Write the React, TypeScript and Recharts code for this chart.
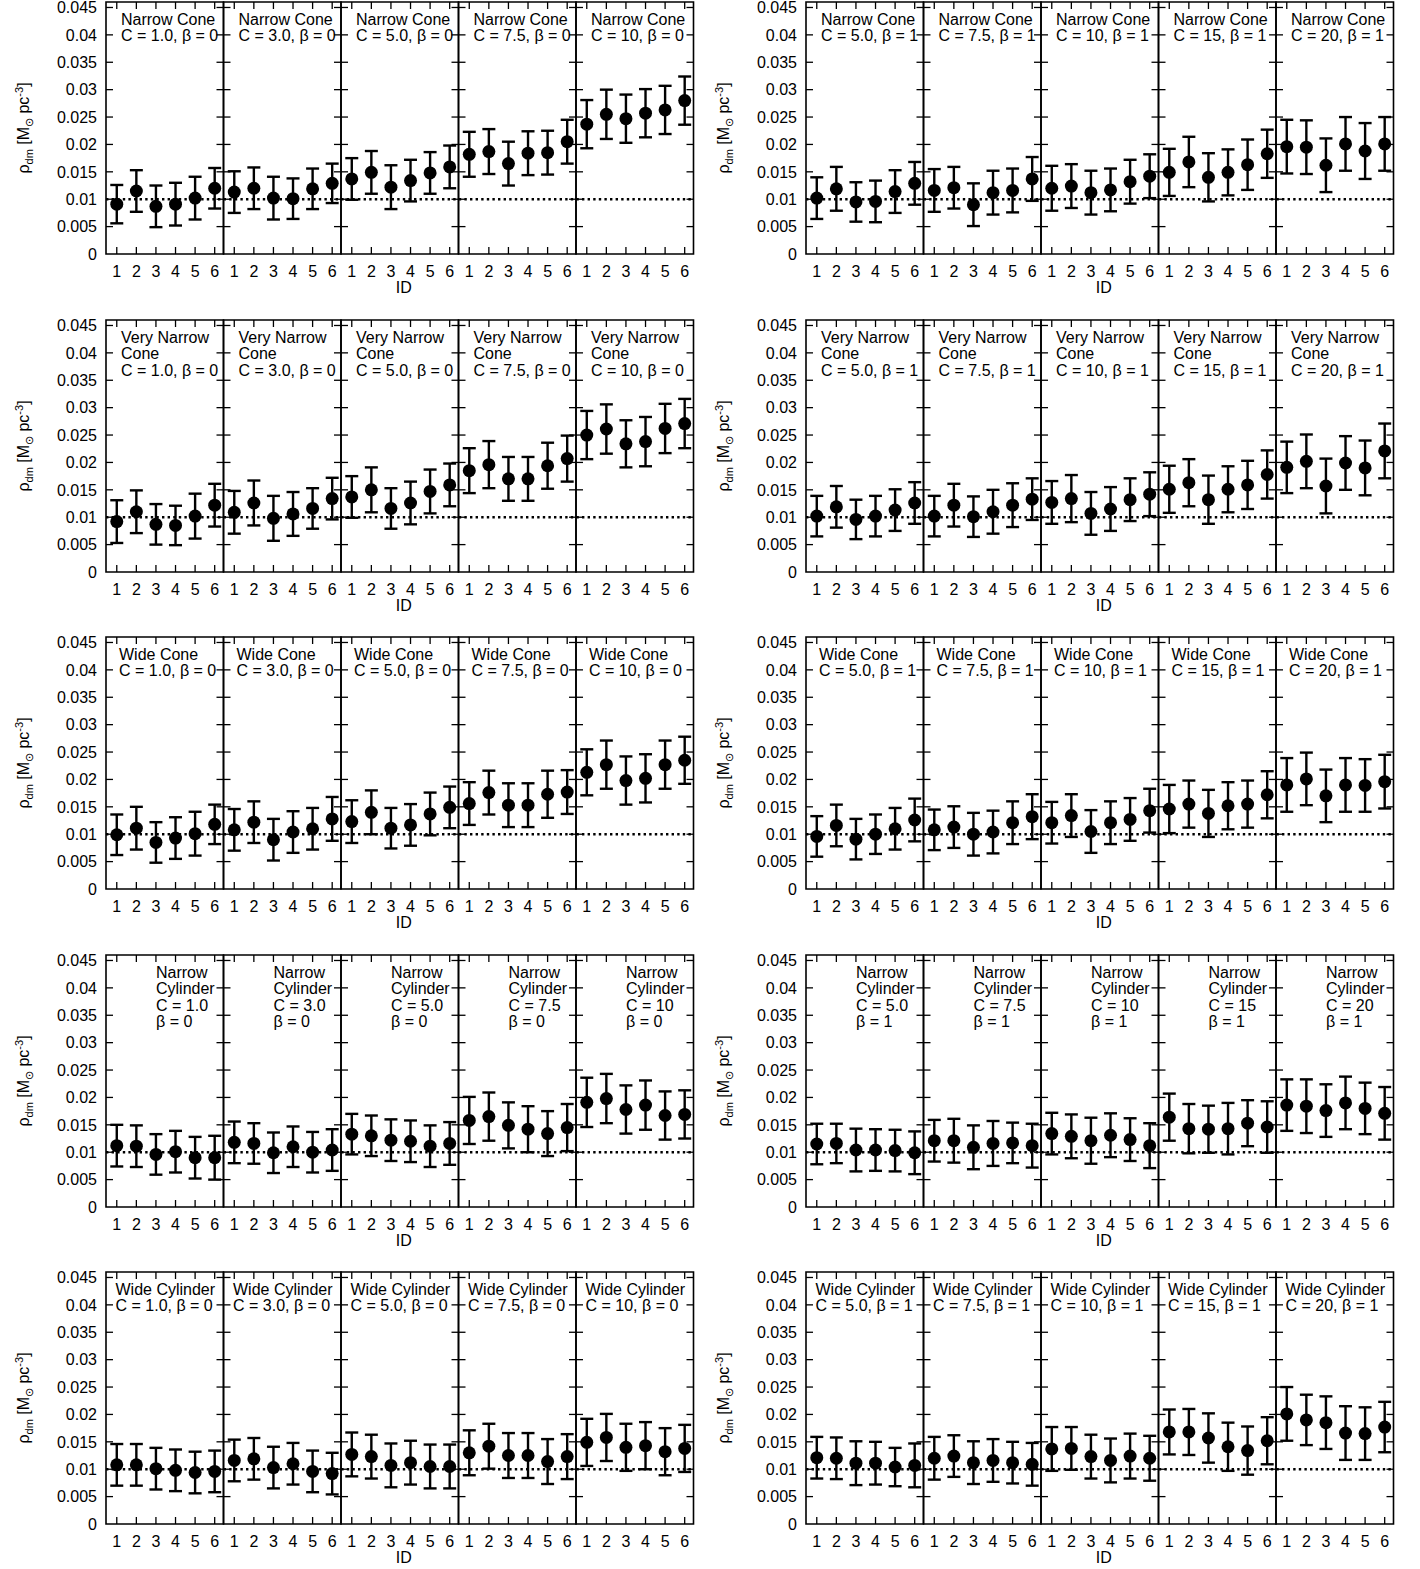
import React from 'react';
import { ScatterChart, Scatter, XAxis, YAxis, ErrorBar, ReferenceLine, ReferenceArea } from 'recharts';

const FONT = '"Liberation Sans", Arial, Helvetica, sans-serif';

// axis setup
const Y_MAX = 0.046;
const yTicks = [0, 0.005, 0.01, 0.015, 0.02, 0.025, 0.03, 0.035, 0.04, 0.045];
const ids = [1, 2, 3, 4, 5, 6];
const cBeta0 = ['1.0', '3.0', '5.0', '7.5', '10'];
const cBeta1 = ['5.0', '7.5', '10', '15', '20'];
const targetDensity = 0.01;

// rho_dm per sub-panel (rows: C value, columns: ID 1..6)
const narrowConeB0 = [
  [0.0091, 0.0115, 0.0087, 0.0091, 0.0102, 0.012],
  [0.0113, 0.012, 0.0102, 0.0101, 0.0119, 0.0129],
  [0.0137, 0.0149, 0.0122, 0.0134, 0.0148, 0.0159],
  [0.0182, 0.0187, 0.0165, 0.0184, 0.0185, 0.0205],
  [0.0237, 0.0255, 0.0247, 0.0257, 0.0263, 0.028],
];
const narrowConeB0Err = [
  [0.0035, 0.0038, 0.0038, 0.0039, 0.0039, 0.0037],
  [0.0038, 0.0038, 0.0039, 0.0037, 0.0037, 0.0036],
  [0.0038, 0.0039, 0.004, 0.0038, 0.0038, 0.0039],
  [0.0041, 0.0041, 0.004, 0.004, 0.004, 0.004],
  [0.0044, 0.0045, 0.0044, 0.0044, 0.0044, 0.0044],
];
const narrowConeB1 = [
  [0.0102, 0.0119, 0.0095, 0.0096, 0.0114, 0.0129],
  [0.0116, 0.0121, 0.009, 0.0112, 0.0116, 0.0137],
  [0.012, 0.0124, 0.0112, 0.0117, 0.0132, 0.0142],
  [0.0149, 0.0168, 0.014, 0.0149, 0.0163, 0.0183],
  [0.0196, 0.0195, 0.0162, 0.0201, 0.0188, 0.0201],
];
const narrowConeB1Err = [
  [0.0038, 0.004, 0.0036, 0.0038, 0.0039, 0.0039],
  [0.0039, 0.0038, 0.0039, 0.004, 0.004, 0.004],
  [0.0041, 0.004, 0.004, 0.0039, 0.004, 0.004],
  [0.0043, 0.0046, 0.0044, 0.0042, 0.0046, 0.0044],
  [0.0049, 0.0049, 0.0049, 0.0049, 0.0051, 0.0049],
];
const veryNarrowConeB0 = [
  [0.0092, 0.011, 0.0087, 0.0085, 0.0102, 0.0122],
  [0.0109, 0.0126, 0.0098, 0.0106, 0.0116, 0.0134],
  [0.0137, 0.015, 0.0116, 0.0126, 0.0147, 0.0159],
  [0.0185, 0.0196, 0.017, 0.017, 0.0194, 0.0207],
  [0.025, 0.0261, 0.0234, 0.0238, 0.0262, 0.0271],
];
const veryNarrowConeB0Err = [
  [0.0039, 0.0039, 0.0037, 0.0036, 0.0041, 0.0039],
  [0.0039, 0.0041, 0.0041, 0.004, 0.0037, 0.0038],
  [0.0038, 0.0041, 0.0037, 0.0039, 0.004, 0.0039],
  [0.0041, 0.0043, 0.004, 0.004, 0.0042, 0.0042],
  [0.0044, 0.0045, 0.0043, 0.0045, 0.0045, 0.0045],
];
const veryNarrowConeB1 = [
  [0.0102, 0.0119, 0.0096, 0.0102, 0.0113, 0.0126],
  [0.0102, 0.0122, 0.0101, 0.011, 0.0122, 0.0133],
  [0.0127, 0.0134, 0.0107, 0.0115, 0.0132, 0.0142],
  [0.0151, 0.0163, 0.0132, 0.0151, 0.0159, 0.0178],
  [0.0191, 0.0202, 0.0157, 0.0199, 0.019, 0.0221],
];
const veryNarrowConeB1Err = [
  [0.0037, 0.0038, 0.0036, 0.0037, 0.0038, 0.0038],
  [0.0037, 0.0039, 0.0037, 0.004, 0.004, 0.0038],
  [0.0039, 0.0043, 0.0039, 0.004, 0.0039, 0.004],
  [0.0043, 0.0043, 0.0044, 0.0042, 0.0044, 0.0044],
  [0.0047, 0.0049, 0.005, 0.0049, 0.005, 0.005],
];
const wideConeB0 = [
  [0.0099, 0.0111, 0.0085, 0.0093, 0.0101, 0.0118],
  [0.0108, 0.0122, 0.009, 0.0104, 0.011, 0.0128],
  [0.0123, 0.014, 0.0111, 0.0117, 0.0137, 0.0149],
  [0.0156, 0.0176, 0.0153, 0.0153, 0.0173, 0.0177],
  [0.0213, 0.0227, 0.0198, 0.0202, 0.0227, 0.0235],
];
const wideConeB0Err = [
  [0.0037, 0.0039, 0.0037, 0.0038, 0.004, 0.0036],
  [0.0038, 0.0038, 0.0038, 0.0038, 0.0038, 0.004],
  [0.0039, 0.004, 0.0037, 0.0038, 0.0039, 0.0038],
  [0.0039, 0.004, 0.004, 0.004, 0.0043, 0.004],
  [0.0042, 0.0044, 0.0044, 0.0044, 0.0044, 0.0043],
];
const wideConeB1 = [
  [0.0096, 0.0116, 0.0091, 0.01, 0.011, 0.0126],
  [0.0108, 0.0113, 0.01, 0.0104, 0.0121, 0.0132],
  [0.0121, 0.0134, 0.0105, 0.0121, 0.0127, 0.0143],
  [0.0146, 0.0155, 0.0138, 0.0152, 0.0155, 0.0172],
  [0.019, 0.0201, 0.017, 0.019, 0.0189, 0.0196],
];
const wideConeB1Err = [
  [0.0037, 0.0038, 0.0037, 0.0036, 0.0038, 0.0039],
  [0.0037, 0.0038, 0.0039, 0.0039, 0.0039, 0.0041],
  [0.0038, 0.0039, 0.0039, 0.0039, 0.0039, 0.004],
  [0.0044, 0.0043, 0.0043, 0.0043, 0.0043, 0.0043],
  [0.0049, 0.0048, 0.0048, 0.0049, 0.0048, 0.0049],
];
const narrowCylB0 = [
  [0.0112, 0.0111, 0.0096, 0.0101, 0.009, 0.009],
  [0.0118, 0.0116, 0.0099, 0.011, 0.01, 0.0104],
  [0.0133, 0.013, 0.0122, 0.012, 0.0111, 0.0116],
  [0.0158, 0.0165, 0.0149, 0.0142, 0.0134, 0.0145],
  [0.0191, 0.0198, 0.0178, 0.0186, 0.0167, 0.0169],
];
const narrowCylB0Err = [
  [0.0038, 0.0038, 0.0037, 0.0038, 0.0038, 0.004],
  [0.0038, 0.0037, 0.0037, 0.0037, 0.0037, 0.0038],
  [0.0037, 0.0037, 0.0038, 0.0038, 0.0038, 0.0039],
  [0.0043, 0.0044, 0.0042, 0.0042, 0.0041, 0.0043],
  [0.0045, 0.0045, 0.0044, 0.0045, 0.0044, 0.0044],
];
const narrowCylB1 = [
  [0.0115, 0.0116, 0.0104, 0.0104, 0.0103, 0.0099],
  [0.0121, 0.0121, 0.0109, 0.0116, 0.0117, 0.0112],
  [0.0134, 0.0129, 0.0121, 0.0131, 0.0123, 0.0112],
  [0.0164, 0.0143, 0.0142, 0.0143, 0.0153, 0.0146],
  [0.0186, 0.0184, 0.0176, 0.019, 0.018, 0.0171],
];
const narrowCylB1Err = [
  [0.0037, 0.0036, 0.0039, 0.0038, 0.0038, 0.0039],
  [0.0038, 0.004, 0.004, 0.0041, 0.0037, 0.004],
  [0.0038, 0.004, 0.0042, 0.004, 0.0039, 0.0041],
  [0.0043, 0.0045, 0.0043, 0.0047, 0.0042, 0.0047],
  [0.0047, 0.0049, 0.0048, 0.0048, 0.0047, 0.0048],
];
const wideCylB0 = [
  [0.0108, 0.0108, 0.0101, 0.0098, 0.0094, 0.0096],
  [0.0116, 0.0119, 0.0103, 0.011, 0.0096, 0.0092],
  [0.0127, 0.0123, 0.0107, 0.0112, 0.0105, 0.0105],
  [0.013, 0.0142, 0.0125, 0.0125, 0.0114, 0.0123],
  [0.0149, 0.0158, 0.014, 0.0143, 0.0132, 0.0138],
];
const wideCylB0Err = [
  [0.0038, 0.0038, 0.0038, 0.0038, 0.0038, 0.0038],
  [0.0038, 0.0038, 0.0038, 0.0038, 0.0038, 0.0038],
  [0.004, 0.004, 0.004, 0.004, 0.004, 0.004],
  [0.0041, 0.0041, 0.0041, 0.0041, 0.0041, 0.0041],
  [0.0043, 0.0043, 0.0043, 0.0043, 0.0043, 0.0043],
];
const wideCylB1 = [
  [0.0121, 0.012, 0.0111, 0.0111, 0.0104, 0.0107],
  [0.012, 0.0124, 0.0112, 0.0116, 0.0112, 0.0109],
  [0.0137, 0.0138, 0.0123, 0.0116, 0.0124, 0.012],
  [0.0168, 0.0168, 0.0157, 0.0141, 0.0134, 0.0152],
  [0.0201, 0.019, 0.0185, 0.0166, 0.0165, 0.0177],
];
const wideCylB1Err = [
  [0.0038, 0.0038, 0.004, 0.0039, 0.0035, 0.004],
  [0.0039, 0.0038, 0.0039, 0.0039, 0.0038, 0.0039],
  [0.004, 0.0039, 0.004, 0.004, 0.0041, 0.0041],
  [0.0041, 0.0042, 0.0045, 0.0044, 0.0044, 0.0043],
  [0.0049, 0.0046, 0.0048, 0.0049, 0.0048, 0.0046],
];

type TitleFn = (c: string, beta: number) => string[];

const geometryTitles: TitleFn[] = [
  (c, b) => ['Narrow Cone', `C = ${c}, β = ${b}`],
  (c, b) => ['Very Narrow', 'Cone', `C = ${c}, β = ${b}`],
  (c, b) => ['Wide Cone', `C = ${c}, β = ${b}`],
  (c, b) => ['Narrow', 'Cylinder', `C = ${c}`, `β = ${b}`],
  (c, b) => ['Wide Cylinder', `C = ${c}, β = ${b}`],
];

const rows = [
  { b0: narrowConeB0, b0Err: narrowConeB0Err, b1: narrowConeB1, b1Err: narrowConeB1Err },
  { b0: veryNarrowConeB0, b0Err: veryNarrowConeB0Err, b1: veryNarrowConeB1, b1Err: veryNarrowConeB1Err },
  { b0: wideConeB0, b0Err: wideConeB0Err, b1: wideConeB1, b1Err: wideConeB1Err },
  { b0: narrowCylB0, b0Err: narrowCylB0Err, b1: narrowCylB1, b1Err: narrowCylB1Err },
  { b0: wideCylB0, b0Err: wideCylB0Err, b1: wideCylB1, b1Err: wideCylB1Err },
];

// layout
const CHART_W = 700;
const PLOT_H = 252;
const TOP_M = 5;
const RIGHT_M = 6.5;
const AXIS_W = 106;
const X_AXIS_H = 45;
const ROW_ZERO = 254;
const ROW_STEP = 317.6;
const titleIndent = [15, 15, 13, 50, 9.5];

const X_MIN = 0.45;
const X_MAX = 30.45;
const SUB = 6;
const xTicks = Array.from({ length: 30 }, (_, i) => i + 1);
const TICK_X = 7 / ((CHART_W - AXIS_W - RIGHT_M) / 30);
const TICK_Y = (7 / PLOT_H) * Y_MAX;

const black = '#000';

const PanelTitle = ({ viewBox, lines, indent }: any) => (
  <g>
    {lines.map((t: string, i: number) => (
      <text key={i} x={viewBox.x + indent} y={viewBox.y + 23 + i * 16.3} fontSize={16} fontFamily={FONT} fill={black}>
        {t}
      </text>
    ))}
  </g>
);

const YLabel = ({ viewBox }: any) => {
  const x = viewBox.x + 29;
  const y = viewBox.y + viewBox.height / 2;
  return (
    <text x={x} y={y} transform={`rotate(-90, ${x}, ${y})`} textAnchor="middle" fontSize={16} fontFamily={FONT} fill={black}>
      <tspan>ρ</tspan>
      <tspan fontSize={11} dy={4}>dm</tspan>
      <tspan dy={-4}> [M</tspan>
      <tspan fontSize={11} dy={4}>⊙</tspan>
      <tspan dy={-4}> pc</tspan>
      <tspan fontSize={11} dy={-6}>-3</tspan>
      <tspan dy={6}>]</tspan>
    </text>
  );
};

const XLabel = ({ viewBox }: any) => (
  <text x={viewBox.x + viewBox.width / 2 + 4} y={viewBox.y + 38.5} textAnchor="middle" fontSize={16} fontFamily={FONT} fill={black}>
    ID
  </text>
);

const dot = (p: any) => <circle cx={p.cx} cy={p.cy} r={6.5} fill={black} />;

// inward ticks: y ticks on every sub-panel edge, x ticks top and bottom
const yTickSegments = yTicks
  .filter((t) => t > 0)
  .flatMap((t) =>
    Array.from({ length: 6 }, (_, k) => {
      const e = X_MIN + k * SUB;
      return [
        { x: Math.max(X_MIN, e - TICK_X), y: t },
        { x: Math.min(X_MAX, e + TICK_X), y: t },
      ];
    })
  );
const xTickSegments = xTicks.flatMap((x) => [
  [{ x, y: 0 }, { x, y: TICK_Y }],
  [{ x, y: Y_MAX - TICK_Y }, { x, y: Y_MAX }],
]);
const tickSegments = [...yTickSegments, ...xTickSegments];

type PanelProps = {
  values: number[][];
  errors: number[][];
  cs: string[];
  beta: number;
  row: number;
  left: number;
  top: number;
};

function Panel({ values, errors, cs, beta, row, left, top }: PanelProps) {
  const data = values.flatMap((sub, s) => sub.map((v, i) => ({ x: s * SUB + ids[i], y: v, err: errors[s][i] })));
  return (
    <div style={{ position: 'absolute', left, top }}>
      <ScatterChart width={CHART_W} height={TOP_M + PLOT_H + X_AXIS_H} margin={{ top: TOP_M, right: RIGHT_M, bottom: 0, left: 0 }}>
        <XAxis
          type="number"
          dataKey="x"
          domain={[X_MIN, X_MAX]}
          ticks={xTicks}
          interval={0}
          tickFormatter={(v: number) => String(((v - 1) % SUB) + 1)}
          tickLine={false}
          axisLine={false}
          tickSize={0}
          tickMargin={12}
          height={X_AXIS_H}
          tick={{ fill: black, fontSize: 16, fontFamily: FONT }}
          label={(p: any) => <XLabel {...p} />}
        />
        <YAxis
          type="number"
          dataKey="y"
          domain={[0, Y_MAX]}
          ticks={yTicks}
          interval={0}
          tickLine={false}
          axisLine={false}
          tickSize={0}
          tickMargin={9}
          width={AXIS_W}
          tick={{ fill: black, fontSize: 16, fontFamily: FONT }}
          label={(p: any) => <YLabel {...p} />}
        />
        {cs.map((c, s) => (
          <ReferenceArea
            key={c}
            x1={X_MIN + s * SUB}
            x2={X_MIN + (s + 1) * SUB}
            y1={0}
            y2={Y_MAX}
            fill="none"
            stroke={black}
            strokeWidth={1.6}
            ifOverflow="visible"
            label={(p: any) => <PanelTitle {...p} lines={geometryTitles[row](c, beta)} indent={titleIndent[row]} />}
          />
        ))}
        <ReferenceLine y={targetDensity} stroke={black} strokeWidth={2.4} strokeDasharray="2.4 3.2" />
        {tickSegments.map((seg, i) => (
          <ReferenceLine key={i} segment={seg} stroke={black} strokeWidth={1.3} />
        ))}
        <Scatter data={data} fill={black} shape={dot} isAnimationActive={false}>
          <ErrorBar dataKey="err" direction="y" width={6.5} strokeWidth={2.4} stroke={black} isAnimationActive={false} />
        </Scatter>
      </ScatterChart>
    </div>
  );
}

export default function App() {
  return (
    <div style={{ position: 'absolute', left: 0, top: 0, width: 1420, height: 1569, background: '#fff', overflow: 'hidden' }}>
      {rows.map((r, i) => {
        const top = ROW_ZERO + i * ROW_STEP - PLOT_H - TOP_M;
        return (
          <React.Fragment key={i}>
            <Panel values={r.b0} errors={r.b0Err} cs={cBeta0} beta={0} row={i} left={0} top={top} />
            <Panel values={r.b1} errors={r.b1Err} cs={cBeta1} beta={1} row={i} left={700} top={top} />
          </React.Fragment>
        );
      })}
    </div>
  );
}
